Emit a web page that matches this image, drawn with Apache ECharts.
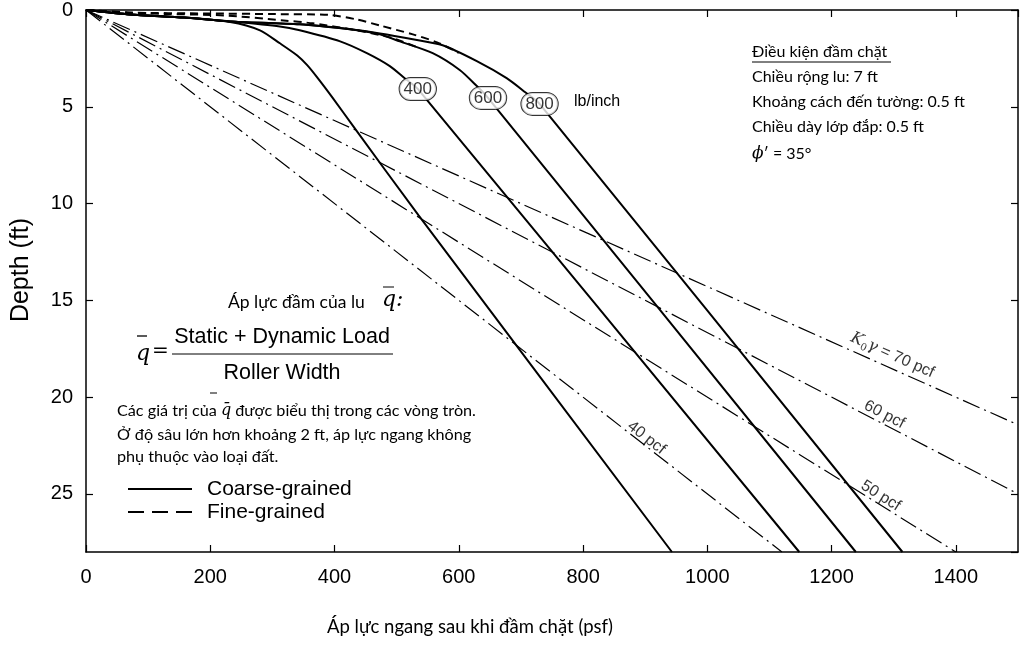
<!DOCTYPE html>
<html><head><meta charset="utf-8">
<script src="https://cdn.jsdelivr.net/npm/echarts@6/dist/echarts.min.js"></script>
<style>html,body{margin:0;padding:0;background:#fff}#c{width:1024px;height:646px}</style>
</head><body><div id="c"></div>
<script>
// ---- data (psf, depth ft) ----
const xTickValues = [0, 200, 400, 600, 800, 1000, 1200, 1400];
const yTickValues = [0, 5, 10, 15, 20, 25];
// Coarse-grained (solid) curves
const coarseLow = [[0,0],[71,0.23],[158,0.39],[232,0.62],[280,1.05],[312,1.72],[340,2.35],[356,2.85],[373,3.52],[397,4.54],[430,6.0],[535,10.6],[943,28]];
const coarse400 = [[0,0],[71,0.23],[158,0.39],[232,0.59],[312,0.85],[344,1.05],[409,1.62],[452,2.23],[489,2.90],[512,3.5],[534,4.08],[1148,28]];
const coarse600 = [[0,0],[71,0.23],[158,0.39],[232,0.59],[344,0.74],[425,1.0],[473,1.26],[505,1.62],[558,2.23],[602,3.11],[629,3.93],[647,4.54],[1239,28]];
const coarse800 = [[0,0],[71,0.23],[158,0.39],[232,0.59],[344,0.74],[425,1.0],[473,1.21],[526,1.51],[574,1.82],[629,2.64],[677,3.52],[707,4.25],[730,4.85],[1314,28]];
// Fine-grained (dashed) curves
const fineA = [[0,0],[66,0.13],[199,0.18],[298,0.21],[390,0.25],[436,0.49],[473,0.80],[526,1.26],[565,1.67],[600,2.21]];
const fineB = [[0,0],[103,0.18],[222,0.28],[318,0.54],[365,0.69],[436,1.05],[494,1.46],[535,1.95]];
// K0*gamma lines (dash-dot)
const pcfValues = [40, 50, 60, 70];
const pcfEnds = [[1120,28],[1400,28],[1500,25],[1500,21.43]];
const pcfLabelPts = [[902,22.1],[1279,25.1],[1285,20.9],[1298,17.84]];
// q-bar labels (lb/inch)
const qLabels = ['400', '600', '800'];
const qLabelPts = [[534,4.08],[647,4.54],[730,4.85]];

const chart = echarts.init(document.getElementById('c'));
const black = '#000';
const solidStyle = {color: black, width: 2, type: 'solid'};
const dashStyle = {color: black, width: 2, type: [8, 5]};
const dashDot = {color: black, width: 1.2, type: [18, 5, 2, 5]};

function lineSeries(data, style) {
  return {type: 'line', data: data, symbol: 'none', smooth: 0.25, lineStyle: style,
          xAxisIndex: 0, yAxisIndex: 0, clip: true, silent: true, z: 3};
}
const series = [];
[coarseLow, coarse400, coarse600, coarse800].forEach(d => series.push(lineSeries(d, solidStyle)));
[fineA, fineB].forEach(d => series.push(lineSeries(d, dashStyle)));
pcfEnds.forEach(e => { const s = lineSeries([[0,0], e], dashDot); s.smooth = false; s.z = 2; series.push(s); });

// pcf labels
series.push({
  type: 'scatter', symbolSize: 1, itemStyle: {color: 'rgba(0,0,0,0)'}, silent: true, z: 5,
  data: pcfValues.map((k, i) => {
    const ang = Math.atan((19.48 / k) / 0.6217) * 180 / Math.PI;
    const txt = k === 70 ? '{i|K}{s|0}{i|γ} = ' + k + ' pcf' : k + ' pcf';
    return {value: pcfLabelPts[i], label: {rotate: -ang, formatter: txt}};
  }),
  label: {show: true, position: 'inside', color: black, fontFamily: 'Liberation Sans', fontSize: 16,
    rich: {i: {fontFamily: 'DejaVu Serif', fontStyle: 'italic', fontSize: 16, color: black},
           s: {fontFamily: 'DejaVu Serif', fontSize: 10, verticalAlign: 'bottom', padding: [10,0,0,0], color: black}}}
});
// q labels in ellipses
series.push({
  type: 'scatter', symbolSize: 1, itemStyle: {color: 'rgba(0,0,0,0)'}, silent: true, z: 6,
  data: qLabels.map((t, i) => ({value: qLabelPts[i], name: t})),
  label: {show: true, position: 'inside', formatter: p => p.name, color: black,
    fontFamily: 'Liberation Sans', fontSize: 17, backgroundColor: '#fff', borderColor: black,
    borderWidth: 1, borderRadius: 13, padding: [3, 4, 2, 4]}
});

const F = 'Lato';
const graphics = [
  // y axis name
  {type: 'text', x: 21, y: 270, rotation: Math.PI / 2, style: {text: 'Depth (ft)', font: '25px "Liberation Sans"', fill: black, textAlign: 'center', textVerticalAlign: 'middle'}},
  // x axis name
  {type: 'text', x: 470, y: 627, style: {text: 'Áp lực ngang sau khi đầm chặt (psf)', font: '18.5px ' + F, fill: black, textAlign: 'center', textVerticalAlign: 'middle'}},
  // lb/inch
  {type: 'text', x: 574, y: 102, style: {text: 'lb/inch', font: '16px "Liberation Sans"', fill: black, textAlign: 'left', textVerticalAlign: 'middle'}},
  // compaction conditions
  {type: 'text', x: 752, y: 52, style: {text: 'Điều kiện đầm chặt', font: '16px ' + F, fill: black, textAlign: 'left', textVerticalAlign: 'middle'}},
  {type: 'line', shape: {x1: 752, y1: 62, x2: 891, y2: 62}, style: {stroke: black, lineWidth: 1}},
  {type: 'text', x: 752, y: 77, style: {text: 'Chiều rộng lu: 7 ft', font: '16px ' + F, fill: black, textAlign: 'left', textVerticalAlign: 'middle'}},
  {type: 'text', x: 752, y: 102, style: {text: 'Khoảng cách đến tường: 0.5 ft', font: '16px ' + F, fill: black, textAlign: 'left', textVerticalAlign: 'middle'}},
  {type: 'text', x: 752, y: 127, style: {text: 'Chiều dày lớp đắp: 0.5 ft', font: '16px ' + F, fill: black, textAlign: 'left', textVerticalAlign: 'middle'}},
  {type: 'text', x: 752, y: 154, style: {text: '{p|ϕ}′ = 35°', font: '16px ' + F, fill: black, textAlign: 'left', textVerticalAlign: 'middle',
    rich: {p: {fontFamily: 'DejaVu Serif', fontStyle: 'italic', fontSize: 17}}}},
  // roller pressure
  {type: 'text', x: 228, y: 302, style: {text: 'Áp lực đầm của lu', font: '17.5px ' + F, fill: black, textAlign: 'left', textVerticalAlign: 'middle'}},
  {type: 'text', x: 382, y: 300, style: {text: 'q:', font: 'italic 22px "DejaVu Serif"', fill: black, textAlign: 'left', textVerticalAlign: 'middle'}},
  {type: 'line', shape: {x1: 383, y1: 287, x2: 394, y2: 287}, style: {stroke: black, lineWidth: 1}},
  // formula
  {type: 'line', shape: {x1: 137, y1: 336, x2: 147, y2: 336}, style: {stroke: black, lineWidth: 1.3}},
  {type: 'text', x: 136, y: 354, style: {text: 'q', font: 'italic 22px "DejaVu Serif"', fill: black, textAlign: 'left', textVerticalAlign: 'middle'}},
  {type: 'text', x: 152, y: 352, style: {text: '=', font: '20px "DejaVu Serif"', fill: black, textAlign: 'left', textVerticalAlign: 'middle'}},
  {type: 'text', x: 282, y: 337, style: {text: 'Static + Dynamic Load', font: '21.5px "Liberation Sans"', fill: black, textAlign: 'center', textVerticalAlign: 'middle'}},
  {type: 'line', shape: {x1: 172, y1: 354, x2: 393, y2: 354}, style: {stroke: black, lineWidth: 1}},
  {type: 'text', x: 282, y: 373, style: {text: 'Roller Width', font: '21.5px "Liberation Sans"', fill: black, textAlign: 'center', textVerticalAlign: 'middle'}},
  // notes
  {type: 'line', shape: {x1: 210, y1: 393, x2: 217, y2: 393}, style: {stroke: black, lineWidth: 1}},
  {type: 'text', x: 117, y: 411, style: {text: 'Các giá trị của {q|q̄} được biểu thị trong các vòng tròn.', font: '16.2px ' + F, fill: black, textAlign: 'left', textVerticalAlign: 'middle',
    rich: {q: {fontFamily: 'DejaVu Serif', fontStyle: 'italic', fontSize: 16}}}},
  {type: 'text', x: 117, y: 435, style: {text: 'Ở độ sâu lớn hơn khoảng 2 ft, áp lực ngang không', font: '16.2px ' + F, fill: black, textAlign: 'left', textVerticalAlign: 'middle'}},
  {type: 'text', x: 117, y: 457, style: {text: 'phụ thuộc vào loại đất.', font: '16.2px ' + F, fill: black, textAlign: 'left', textVerticalAlign: 'middle'}},
  // legend
  {type: 'line', shape: {x1: 128, y1: 489, x2: 192, y2: 489}, style: {stroke: black, lineWidth: 2}},
  {type: 'text', x: 207, y: 489, style: {text: 'Coarse-grained', font: '21px "Liberation Sans"', fill: black, textAlign: 'left', textVerticalAlign: 'middle'}},
  {type: 'line', shape: {x1: 128, y1: 512, x2: 192, y2: 512}, style: {stroke: black, lineWidth: 2, lineDash: [16, 8]}},
  {type: 'text', x: 207, y: 512, style: {text: 'Fine-grained', font: '21px "Liberation Sans"', fill: black, textAlign: 'left', textVerticalAlign: 'middle'}}
];

const axLine = {show: true, onZero: false, lineStyle: {color: black, width: 1.5}};
const tick = {show: true, inside: true, length: 7, lineStyle: {color: black, width: 1.2}};
chart.setOption({
  animation: false,
  backgroundColor: '#fff',
  grid: {left: 86, top: 7, width: 932, height: 545, containLabel: false},
  xAxis: [
    {type: 'value', min: 0, max: 1500, interval: 200, position: 'bottom', axisLine: axLine, axisTick: tick,
     splitLine: {show: false}, axisLabel: {color: black, fontFamily: 'Liberation Sans', fontSize: 20, margin: 15, showMaxLabel: false,
       formatter: v => xTickValues.includes(v) ? String(v) : ''}},
    {type: 'value', min: 0, max: 1500, interval: 200, position: 'top', axisLine: axLine, axisTick: tick,
     splitLine: {show: false}, axisLabel: {show: false}}
  ],
  yAxis: [
    {type: 'value', min: 0, max: 28, interval: 5, inverse: true, position: 'left', axisLine: axLine, axisTick: tick,
     splitLine: {show: false}, axisLabel: {color: black, fontFamily: 'Liberation Sans', fontSize: 20, margin: 13, showMaxLabel: false,
       formatter: v => yTickValues.includes(v) ? String(v) : ''}},
    {type: 'value', min: 0, max: 28, interval: 5, inverse: true, position: 'right', axisLine: axLine, axisTick: tick,
     splitLine: {show: false}, axisLabel: {show: false}}
  ],
  series: series,
  graphic: graphics
});
</script></body></html>
